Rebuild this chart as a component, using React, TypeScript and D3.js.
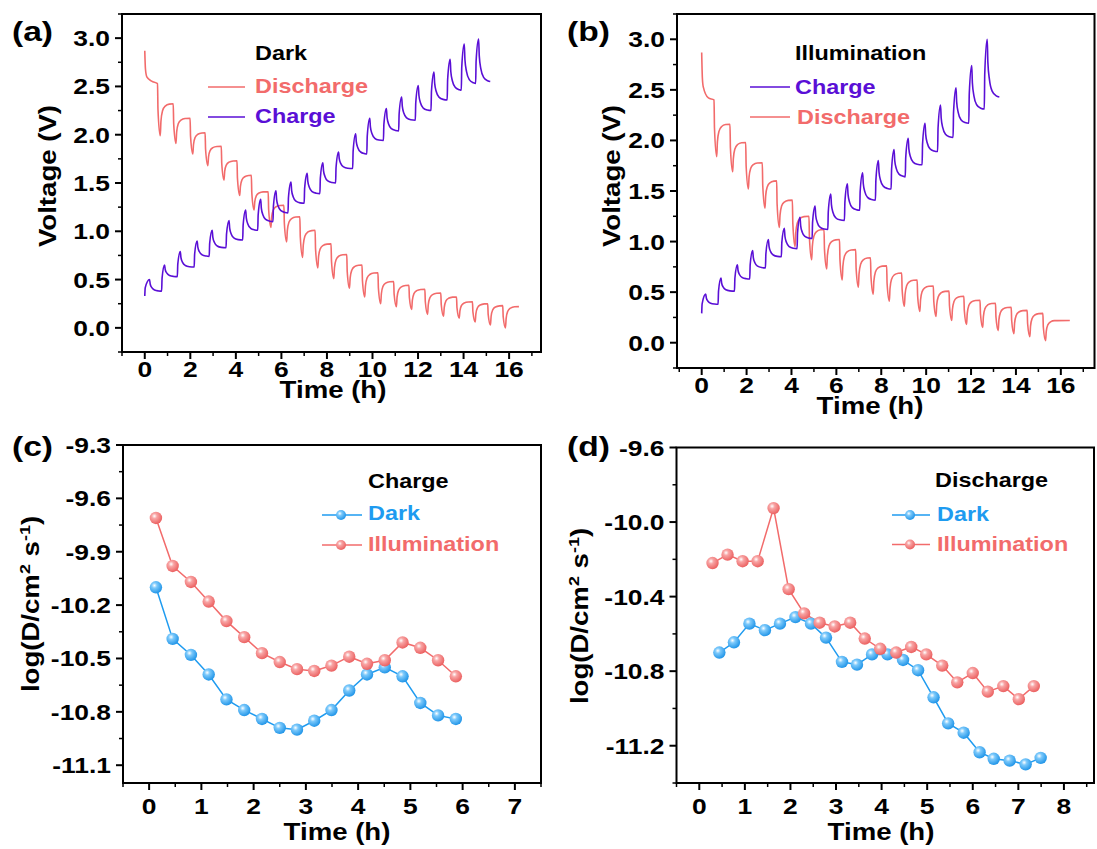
import React from 'react';
import * as d3 from 'd3';

// ---------------- Panel (a): Dark GITT ----------------
const aChargeStart: [number, number] = [0, 0.33];
const aChargePeakT = [0.21, 0.87, 1.56, 2.3, 2.96, 3.7, 4.43, 5.09, 5.76, 6.42, 7.13, 7.82, 8.51, 9.26, 9.88, 10.61, 11.28, 12.01, 12.7, 13.41, 14.03, 14.66];
const aChargePeakV = [0.5, 0.65, 0.79, 0.9, 1.01, 1.11, 1.22, 1.33, 1.42, 1.51, 1.6, 1.71, 1.82, 2.01, 2.17, 2.27, 2.39, 2.51, 2.65, 2.78, 2.94, 2.99];
const aChargeRestV = [0.38, 0.53, 0.63, 0.74, 0.83, 0.91, 1.01, 1.1, 1.19, 1.29, 1.39, 1.5, 1.65, 1.8, 1.94, 2.04, 2.15, 2.25, 2.36, 2.46, 2.53, 2.55];
const aChargeEndT = 15.17;

const aDisHead: [number, number][] = [[0, 2.87], [0.03, 2.68], [0.09, 2.6], [0.3, 2.555]];
const aDisHeadRest = 2.53;
const aDisMinT = [0.68, 1.37, 2.11, 2.77, 3.48, 4.17, 4.8, 5.54, 6.23, 6.93, 7.6, 8.3, 8.99, 9.66, 10.36, 11.05, 11.72, 12.42, 13.12, 13.81, 14.51, 15.18, 15.84];
const aDisMinV = [1.99, 1.91, 1.8, 1.68, 1.53, 1.37, 1.22, 1.04, 0.89, 0.73, 0.62, 0.51, 0.41, 0.32, 0.25, 0.22, 0.19, 0.14, 0.12, 0.1, 0.06, 0.03, 0.0];
const aDisRestV = [2.32, 2.17, 2.02, 1.88, 1.73, 1.58, 1.41, 1.27, 1.15, 1.01, 0.87, 0.76, 0.65, 0.57, 0.48, 0.44, 0.4, 0.36, 0.32, 0.27, 0.25, 0.23, 0.22];
const aDisEndT = 16.43;

// ---------------- Panel (b): Illumination GITT ----------------
const bChargeStart: [number, number] = [0, 0.29];
const bChargePeakT = [0.18, 0.86, 1.59, 2.27, 2.97, 3.68, 4.38, 5.05, 5.75, 6.49, 7.17, 7.87, 8.57, 9.2, 9.95, 10.64, 11.33, 12.03, 12.72];
const bChargePeakV = [0.48, 0.64, 0.77, 0.91, 1.02, 1.13, 1.24, 1.35, 1.47, 1.57, 1.68, 1.8, 1.91, 2.02, 2.17, 2.35, 2.52, 2.74, 3.0];
const bChargeRestV = [0.38, 0.51, 0.63, 0.74, 0.85, 0.93, 1.03, 1.12, 1.21, 1.31, 1.41, 1.52, 1.64, 1.76, 1.89, 2.03, 2.17, 2.31, 2.43];
const bChargeEndT = 13.26;

const bDisHead: [number, number][] = [[0, 2.87], [0.03, 2.62], [0.07, 2.53], [0.3, 2.42]];
const bDisHeadRest = 2.4;
const bDisMinT = [0.67, 1.38, 2.08, 2.82, 3.46, 4.16, 4.9, 5.57, 6.26, 6.98, 7.64, 8.36, 9.03, 9.72, 10.44, 11.14, 11.8, 12.52, 13.21, 13.91, 14.62, 15.32];
const bDisMinV = [1.84, 1.69, 1.52, 1.33, 1.14, 0.95, 0.82, 0.73, 0.62, 0.55, 0.48, 0.41, 0.36, 0.31, 0.26, 0.22, 0.18, 0.15, 0.12, 0.09, 0.06, 0.02];
const bDisRestV = [2.16, 1.98, 1.78, 1.6, 1.41, 1.25, 1.12, 1.02, 0.92, 0.84, 0.76, 0.69, 0.62, 0.56, 0.51, 0.46, 0.42, 0.39, 0.35, 0.32, 0.29, 0.22];
const bDisEndT = 16.4;

// ---------------- Panel (c): Charge diffusion ----------------
const cTime = [0.13, 0.45, 0.8, 1.14, 1.48, 1.82, 2.16, 2.5, 2.83, 3.16, 3.49, 3.83, 4.17, 4.51, 4.85, 5.19, 5.53, 5.87];
const cDark = [-10.1, -10.39, -10.48, -10.59, -10.73, -10.79, -10.84, -10.89, -10.9, -10.85, -10.79, -10.68, -10.59, -10.55, -10.6, -10.75, -10.82, -10.84];
const cIllum = [-9.71, -9.98, -10.07, -10.18, -10.29, -10.38, -10.47, -10.52, -10.56, -10.57, -10.54, -10.49, -10.53, -10.51, -10.41, -10.44, -10.51, -10.6];

// ---------------- Panel (d): Discharge diffusion ----------------
const dDarkTime = [0.44, 0.76, 1.1, 1.44, 1.77, 2.11, 2.45, 2.78, 3.13, 3.46, 3.79, 4.13, 4.47, 4.8, 5.14, 5.46, 5.8, 6.15, 6.46, 6.81, 7.16, 7.49];
const dDark = [-10.7, -10.645, -10.545, -10.58, -10.545, -10.51, -10.545, -10.62, -10.75, -10.765, -10.71, -10.71, -10.74, -10.795, -10.94, -11.08, -11.13, -11.235, -11.27, -11.28, -11.3, -11.265];
const dIllumTime = [0.29, 0.62, 0.95, 1.28, 1.63, 1.96, 2.3, 2.64, 2.97, 3.31, 3.63, 3.97, 4.32, 4.65, 4.98, 5.33, 5.66, 6.0, 6.33, 6.67, 7.01, 7.34];
const dIllum = [-10.22, -10.175, -10.21, -10.21, -9.925, -10.36, -10.49, -10.54, -10.56, -10.54, -10.625, -10.68, -10.7, -10.67, -10.71, -10.77, -10.86, -10.81, -10.91, -10.88, -10.95, -10.88];

// ---------------- Ticks ----------------
const vTicks = [0, 0.5, 1, 1.5, 2, 2.5, 3];
const vMinor = [-0.25, 0.25, 0.75, 1.25, 1.75, 2.25, 2.75, 3.25];
const hTicks = [0, 2, 4, 6, 8, 10, 12, 14, 16];
const hMinor = [-1, 1, 3, 5, 7, 9, 11, 13, 15, 17];
const cYTicks = [-9.3, -9.6, -9.9, -10.2, -10.5, -10.8, -11.1];
const cYMinor = [-9.45, -9.75, -10.05, -10.35, -10.65, -10.95];
const cXTicks = [0, 1, 2, 3, 4, 5, 6, 7];
const cXMinor = [-0.5, 0.5, 1.5, 2.5, 3.5, 4.5, 5.5, 6.5, 7.5];
const dYTicks = [-9.6, -10.0, -10.4, -10.8, -11.2];
const dYMinor = [-9.8, -10.2, -10.6, -11.0, -11.4];
const dXTicks = [0, 1, 2, 3, 4, 5, 6, 7, 8];
const dXMinor = [-0.5, 0.5, 1.5, 2.5, 3.5, 4.5, 5.5, 6.5, 7.5, 8.5];

const RED = '#F26B6B';
const PURPLE = '#5A0FD6';
const BLUE = '#1E9BF0';
const FONT = "'Liberation Sans', Arial, Helvetica, sans-serif";
const SX = 1.2;

type P = [number, number];

function chargePts(start: P, peakT: number[], peakV: number[], restV: number[], endT: number): P[] {
  const pts: P[] = [start];
  const rise = 0.13;
  for (let i = 0; i < peakT.length; i++) {
    const tp = peakT[i], vp = peakV[i], vr = restV[i];
    const prev = i === 0 ? start[1] : restV[i - 1];
    const ts = i === 0 ? start[0] : tp - rise;
    if (i > 0) pts.push([ts, prev]);
    pts.push([ts + 0.02, prev + 0.5 * (vp - prev)]);
    pts.push([tp, vp]);
    const d = vp - vr;
    pts.push([tp + 0.03, vr + 0.6 * d]);
    pts.push([tp + 0.1, vr + 0.3 * d]);
    pts.push([tp + 0.22, vr + 0.1 * d]);
    pts.push([tp + 0.4, vr + 0.02 * d]);
    if (i === peakT.length - 1) pts.push([endT, vr]);
  }
  return pts;
}

function dischargePts(head: P[], headRest: number, minT: number[], minV: number[], restV: number[], endT: number): P[] {
  const pts: P[] = head.map((p) => [p[0], p[1]] as P);
  const drop = 0.12;
  for (let i = 0; i < minT.length; i++) {
    const tm = minT[i], vm = minV[i], vr = restV[i];
    const prev = i === 0 ? headRest : restV[i - 1];
    const ts = tm - drop;
    pts.push([ts, prev]);
    pts.push([ts + 0.02, prev - 0.5 * (prev - vm)]);
    pts.push([tm, vm]);
    const d = vr - vm;
    pts.push([tm + 0.03, vr - 0.55 * d]);
    pts.push([tm + 0.1, vr - 0.22 * d]);
    pts.push([tm + 0.22, vr - 0.07 * d]);
    pts.push([tm + 0.4, vr - 0.01 * d]);
    if (i === minT.length - 1) pts.push([endT, vr]);
  }
  return pts;
}

function Txt({ x, y, size, fill = '#000', anchor = 'start', rot = 0, children }: any) {
  return (
    <text
      transform={`translate(${x},${y}) rotate(${rot}) scale(${SX},1)`}
      fontFamily={FONT}
      fontWeight="bold"
      fontSize={size}
      fill={fill}
      textAnchor={anchor}
    >
      {children}
    </text>
  );
}

function Axes({ xs, ys, xTicks, xMinor, yTicks, yMinor, yFmt, xLabelDy, tickSize = 22 }: any) {
  const [x0, x1] = xs.range();
  const [y1, y0] = ys.range();
  return (
    <g>
      <rect x={x0} y={y0} width={x1 - x0} height={y1 - y0} fill="none" stroke="#000" strokeWidth={2} />
      {yTicks.map((v: number) => (
        <g key={'y' + v}>
          <line x1={x0 - 7} x2={x0} y1={ys(v)} y2={ys(v)} stroke="#000" strokeWidth={2} />
          <Txt x={x0 - 12} y={ys(v) + 8} size={tickSize} anchor="end">{yFmt(v)}</Txt>
        </g>
      ))}
      {yMinor.map((v: number) => (
        <line key={'ym' + v} x1={x0 - 4} x2={x0} y1={ys(v)} y2={ys(v)} stroke="#000" strokeWidth={1.5} />
      ))}
      {xTicks.map((v: number) => (
        <g key={'x' + v}>
          <line x1={xs(v)} x2={xs(v)} y1={y1} y2={y1 + 7} stroke="#000" strokeWidth={2} />
          <Txt x={xs(v)} y={y1 + xLabelDy} size={tickSize} anchor="middle">{String(v)}</Txt>
        </g>
      ))}
      {xMinor.map((v: number) => (
        <line key={'xm' + v} x1={xs(v)} x2={xs(v)} y1={y1} y2={y1 + 4} stroke="#000" strokeWidth={1.5} />
      ))}
    </g>
  );
}

function Ball({ cx, cy, r, id }: any) {
  return <circle cx={cx} cy={cy} r={r} fill={`url(#${id})`} />;
}

export default function App() {
  // scales
  const axs = d3.scaleLinear().domain([-1, 17.4]).range([122, 541]);
  const ays = d3.scaleLinear().domain([-0.25, 3.25]).range([352, 14]);
  const bxs = d3.scaleLinear().domain([-1.1, 17.5]).range([677, 1094.5]);
  const bys = d3.scaleLinear().domain([-0.25, 3.25]).range([368, 14]);
  const cxs = d3.scaleLinear().domain([-0.5, 7.5]).range([123, 541]);
  const cys = d3.scaleLinear().domain([-11.2, -9.3]).range([783, 445]);
  const dxs = d3.scaleLinear().domain([-0.5, 8.66]).range([676.5, 1094]);
  const dys = d3.scaleLinear().domain([-11.4, -9.6]).range([783, 447.5]);

  const lineA = d3.line<P>().x((d) => axs(d[0])).y((d) => ays(d[1])).curve(d3.curveMonotoneX);
  const lineB = d3.line<P>().x((d) => bxs(d[0])).y((d) => bys(d[1])).curve(d3.curveMonotoneX);

  const aCh = chargePts(aChargeStart, aChargePeakT, aChargePeakV, aChargeRestV, aChargeEndT);
  const aDis = dischargePts(aDisHead, aDisHeadRest, aDisMinT, aDisMinV, aDisRestV, aDisEndT);
  const bCh = chargePts(bChargeStart, bChargePeakT, bChargePeakV, bChargeRestV, bChargeEndT);
  const bDis = dischargePts(bDisHead, bDisHeadRest, bDisMinT, bDisMinV, bDisRestV, bDisEndT);

  const cDarkPts: P[] = cTime.map((t, i) => [t, cDark[i]]);
  const cIllPts: P[] = cTime.map((t, i) => [t, cIllum[i]]);
  const dDarkPts: P[] = dDarkTime.map((t, i) => [t, dDark[i]]);
  const dIllPts: P[] = dIllumTime.map((t, i) => [t, dIllum[i]]);
  const lineC = d3.line<P>().x((d) => cxs(d[0])).y((d) => cys(d[1]));
  const lineD = d3.line<P>().x((d) => dxs(d[0])).y((d) => dys(d[1]));

  const fmt1 = (v: number) => v.toFixed(1);

  const logTitle = (x: number, y: number) => (
    <text transform={`translate(${x},${y}) rotate(-90) scale(${SX},1)`} fontFamily={FONT} fontWeight="bold" fontSize={23} textAnchor="middle">
      log(D/cm<tspan dy={-9} fontSize={15}>2</tspan>
      <tspan dy={9}> s</tspan>
      <tspan dy={-9} fontSize={15}>-1</tspan>
      <tspan dy={9}>)</tspan>
    </text>
  );

  return (
    <svg width={1097} height={849} style={{ position: 'absolute', left: 0, top: 0, background: '#fff' }}>
      <defs>
        <radialGradient id="gBlue" cx="0.38" cy="0.35" r="0.7">
          <stop offset="0" stopColor="#ffffff" />
          <stop offset="0.3" stopColor="#7cc9fb" />
          <stop offset="1" stopColor="#1890e6" />
        </radialGradient>
        <radialGradient id="gRed" cx="0.38" cy="0.35" r="0.7">
          <stop offset="0" stopColor="#ffffff" />
          <stop offset="0.3" stopColor="#f8a4a4" />
          <stop offset="1" stopColor="#ea5a5a" />
        </radialGradient>
      </defs>
      <rect width={1097} height={849} fill="#fff" />

      {/* ---------- (a) ---------- */}
      <Axes xs={axs} ys={ays} xTicks={hTicks} xMinor={hMinor} yTicks={vTicks} yMinor={vMinor} yFmt={fmt1} xLabelDy={25} />
      <path d={lineA(aDis) || ''} fill="none" stroke={RED} strokeWidth={1.6} />
      <path d={lineA(aCh) || ''} fill="none" stroke={PURPLE} strokeWidth={1.6} />
      <Txt x={12} y={41} size={28}>(a)</Txt>
      <Txt x={56} y={176} size={23} rot={-90} anchor="middle">Voltage (V)</Txt>
      <Txt x={333} y={398} size={23} anchor="middle">Time (h)</Txt>
      <Txt x={255} y={60} size={19.5}>Dark</Txt>
      <line x1={208} x2={245} y1={87} y2={87} stroke={RED} strokeWidth={1.5} />
      <Txt x={255} y={93} size={19.5} fill={RED}>Discharge</Txt>
      <line x1={208} x2={245} y1={117} y2={117} stroke={PURPLE} strokeWidth={1.5} />
      <Txt x={255} y={123} size={19.5} fill={PURPLE}>Charge</Txt>

      {/* ---------- (b) ---------- */}
      <Axes xs={bxs} ys={bys} xTicks={hTicks} xMinor={hMinor.filter((v) => v <= 17)} yTicks={vTicks} yMinor={vMinor} yFmt={fmt1} xLabelDy={25} />
      <path d={lineB(bDis) || ''} fill="none" stroke={RED} strokeWidth={1.6} />
      <path d={lineB(bCh) || ''} fill="none" stroke={PURPLE} strokeWidth={1.6} />
      <Txt x={567} y={41} size={28}>(b)</Txt>
      <Txt x={620} y={176} size={23} rot={-90} anchor="middle">Voltage (V)</Txt>
      <Txt x={870} y={414} size={23} anchor="middle">Time (h)</Txt>
      <Txt x={795} y={60} size={19.5}>Illumination</Txt>
      <line x1={750} x2={790} y1={87} y2={87} stroke={PURPLE} strokeWidth={1.5} />
      <Txt x={795} y={94} size={19.5} fill={PURPLE}>Charge</Txt>
      <line x1={750} x2={790} y1={117} y2={117} stroke={RED} strokeWidth={1.5} />
      <Txt x={797} y={124} size={19.5} fill={RED}>Discharge</Txt>

      {/* ---------- (c) ---------- */}
      <Axes xs={cxs} ys={cys} xTicks={cXTicks} xMinor={cXMinor} yTicks={cYTicks} yMinor={cYMinor} yFmt={fmt1} xLabelDy={31} />
      <path d={lineC(cDarkPts) || ''} fill="none" stroke={BLUE} strokeWidth={1.5} />
      <path d={lineC(cIllPts) || ''} fill="none" stroke={RED} strokeWidth={1.5} />
      {cDarkPts.map((p, i) => <Ball key={'cd' + i} cx={cxs(p[0])} cy={cys(p[1])} r={6.2} id="gBlue" />)}
      {cIllPts.map((p, i) => <Ball key={'ci' + i} cx={cxs(p[0])} cy={cys(p[1])} r={6.2} id="gRed" />)}
      <Txt x={12} y={456} size={28}>(c)</Txt>
      {logTitle(39, 604)}
      <Txt x={337} y={840} size={23} anchor="middle">Time (h)</Txt>
      <Txt x={368} y={488} size={19.5}>Charge</Txt>
      <line x1={322} x2={362} y1={515} y2={515} stroke={BLUE} strokeWidth={1.5} />
      <Ball cx={341} cy={515} r={5} id="gBlue" />
      <Txt x={368} y={520} size={19.5} fill={BLUE}>Dark</Txt>
      <line x1={322} x2={362} y1={545} y2={545} stroke={RED} strokeWidth={1.5} />
      <Ball cx={341} cy={545} r={5} id="gRed" />
      <Txt x={368} y={551} size={19.5} fill={RED}>Illumination</Txt>

      {/* ---------- (d) ---------- */}
      <Axes xs={dxs} ys={dys} xTicks={dXTicks} xMinor={dXMinor} yTicks={dYTicks} yMinor={dYMinor} yFmt={fmt1} xLabelDy={31} />
      <path d={lineD(dDarkPts) || ''} fill="none" stroke={BLUE} strokeWidth={1.5} />
      <path d={lineD(dIllPts) || ''} fill="none" stroke={RED} strokeWidth={1.5} />
      {dDarkPts.map((p, i) => <Ball key={'dd' + i} cx={dxs(p[0])} cy={dys(p[1])} r={6.2} id="gBlue" />)}
      {dIllPts.map((p, i) => <Ball key={'di' + i} cx={dxs(p[0])} cy={dys(p[1])} r={6.2} id="gRed" />)}
      <Txt x={567} y={456} size={28}>(d)</Txt>
      {logTitle(588, 616)}
      <Txt x={881} y={840} size={23} anchor="middle">Time (h)</Txt>
      <Txt x={935} y={487} size={19.5}>Discharge</Txt>
      <line x1={892} x2={930} y1={515} y2={515} stroke={BLUE} strokeWidth={1.5} />
      <Ball cx={910} cy={515} r={5} id="gBlue" />
      <Txt x={937} y={521} size={19.5} fill={BLUE}>Dark</Txt>
      <line x1={892} x2={930} y1={544.5} y2={544.5} stroke={RED} strokeWidth={1.5} />
      <Ball cx={910} cy={544.5} r={5} id="gRed" />
      <Txt x={937} y={551} size={19.5} fill={RED}>Illumination</Txt>
    </svg>
  );
}
